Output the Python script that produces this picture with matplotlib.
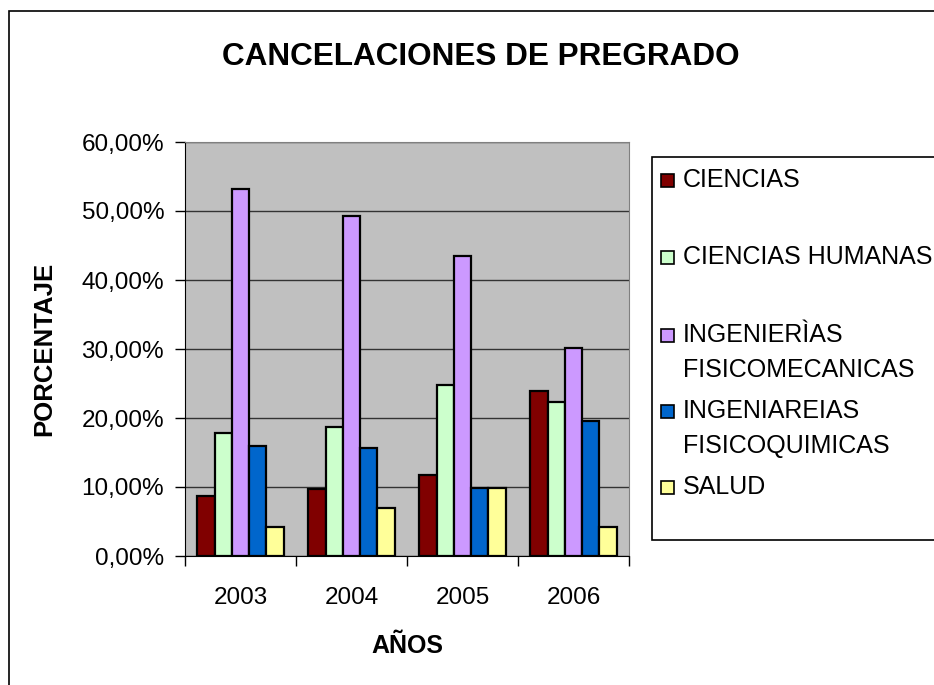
import matplotlib
matplotlib.use("Agg")
import matplotlib.pyplot as plt
import numpy as np
from matplotlib.patches import Rectangle
from matplotlib.ticker import FuncFormatter, FixedLocator

plt.rcParams['font.family'] = ['Liberation Sans', 'DejaVu Sans']

years = ['2003', '2004', '2005', '2006']
series = ['CIENCIAS', 'CIENCIAS HUMANAS', 'INGENIERÌAS\nFISICOMECANICAS',
          'INGENIAREIAS\nFISICOQUIMICAS', 'SALUD']
ciencias = [8.7, 9.7, 11.8, 23.9]
humanas = [17.8, 18.7, 24.8, 22.3]
fisicomecanicas = [53.2, 49.3, 43.5, 30.2]
fisicoquimicas = [16.0, 15.7, 9.9, 19.6]
salud = [4.2, 6.9, 9.9, 4.2]
colors = ['#800000', '#CCFFCC', '#CC99FF', '#0066CC', '#FFFF99']

values = [ciencias, humanas, fisicomecanicas, fisicoquimicas, salud]

W, H = 934, 685
fig = plt.figure(figsize=(W / 100, H / 100), dpi=100)
ax = fig.add_axes([185 / W, 1 - 556 / H, (629 - 185) / W, (556 - 142) / H])
ax.set_facecolor('#C0C0C0')

x = np.arange(len(years))
bw = 0.155
for i, (vals, c) in enumerate(zip(values, colors)):
    ax.bar(x + (i - 2) * bw, vals, bw, color=c, edgecolor='black', linewidth=1.6, zorder=3)

ax.set_xlim(-0.5, 3.5)
ax.set_ylim(0, 60)
ax.set_yticks(np.arange(0, 61, 10))
ax.yaxis.set_major_formatter(FuncFormatter(lambda v, p: f'{v:.2f}%'.replace('.', ',')))
ax.grid(axis='y', color='#333333', linewidth=1, zorder=1)
ax.tick_params(axis='y', length=7, width=1, pad=8, labelsize=17.5, direction='out')

ax.xaxis.set_major_locator(FixedLocator([-0.5, 0.5, 1.5, 2.5, 3.5]))
ax.xaxis.set_major_formatter(FuncFormatter(lambda v, p: ''))
ax.xaxis.set_minor_locator(FixedLocator(x))
ax.set_xticks(x, years, minor=True)
ax.tick_params(axis='x', which='major', length=7, width=1, direction='out')
ax.tick_params(axis='x', which='minor', length=0, pad=22, labelsize=17.5)

for s in ['top', 'right']:
    ax.spines[s].set_color('#808080')
for s in ['left', 'bottom']:
    ax.spines[s].set_color('black')

ax.set_xlabel('AÑOS', fontsize=18, fontweight='bold', labelpad=18)
ax.set_ylabel('PORCENTAJE', fontsize=18.5, fontweight='bold', labelpad=18)

fig.text(481 / W, 1 - 57 / H, 'CANCELACIONES DE PREGRADO', ha='center', va='center',
         fontsize=22.7, fontweight='bold')

# outer chart border
fig.patches.append(Rectangle((9 / W, -0.1), 1.2, 1.1 - 11 / H, transform=fig.transFigure,
                             fill=False, edgecolor='black', linewidth=1.2))

# legend box
fig.patches.append(Rectangle((652 / W, 1 - 540 / H), 0.5, (540 - 157) / H,
                             transform=fig.transFigure, fill=True, facecolor='white',
                             edgecolor='black', linewidth=1.2))
leg_y = [180, 257, 335, 411, 487]
for lab, c, yy in zip(series, colors, leg_y):
    fig.patches.append(Rectangle((661 / W, 1 - (yy + 6.5) / H), 13 / W, 13 / H,
                                 transform=fig.transFigure, facecolor=c,
                                 edgecolor='black', linewidth=1.2))
    fig.text(683 / W, 1 - (yy - 12) / H, lab, ha='left', va='top', fontsize=18,
             linespacing=1.6)

fig.savefig('out.png', dpi=100)
